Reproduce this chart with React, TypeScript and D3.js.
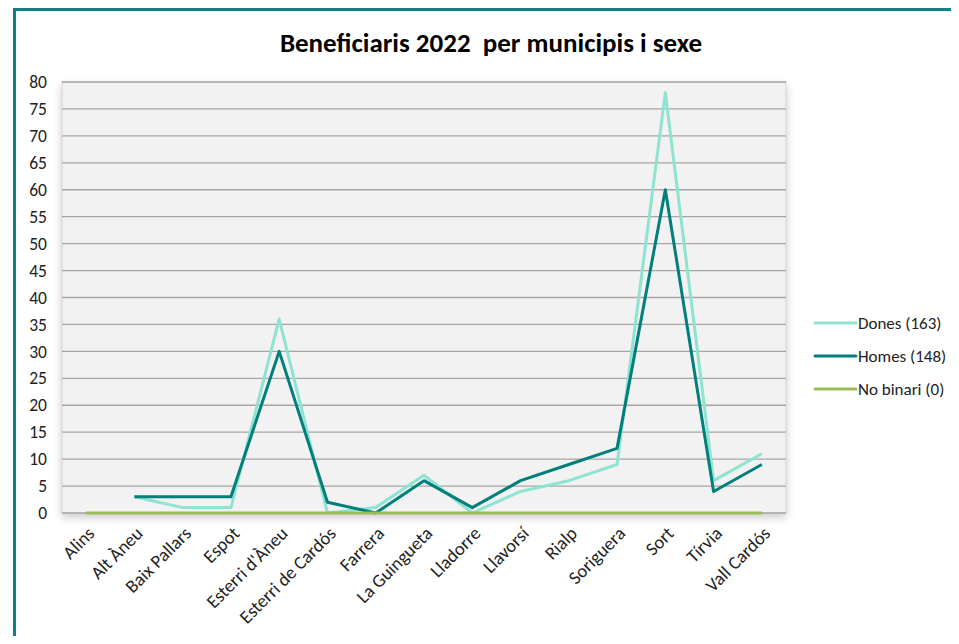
import React from "react";
import * as d3 from "d3";

const categories = ["Alins", "Alt Àneu", "Baix Pallars", "Espot", "Esterri d'Àneu", "Esterri de Cardós", "Farrera", "La Guingueta", "Lladorre", "Llavorsí", "Rialp", "Soriguera", "Sort", "Tírvia", "Vall Cardós"];
const dones: (number | null)[] = [null, 3, 1, 1, 36, 0, 1, 7, 0, 4, 6, 9, 78, 6, 11];
const homes: (number | null)[] = [null, 3, 3, 3, 30, 2, 0, 6, 1, 6, 9, 12, 60, 4, 9];
const noBinari: (number | null)[] = [0, 0, 0, 0, 0, 0, 0, 0, 0, 0, 0, 0, 0, 0, 0];
const yTicks = [0, 5, 10, 15, 20, 25, 30, 35, 40, 45, 50, 55, 60, 65, 70, 75, 80];
const seriesNames = ["Dones (163)", "Homes (148)", "No binari (0)"];
const seriesColors = ["#8fe3d1", "#007f7b", "#9bbb59"];

const W = 959, H = 644;
const plot = { left: 62, right: 786, top: 82, bottom: 513 };
const font = "Calibri, Carlito, 'Open Sans', 'Liberation Sans', sans-serif";

export default function App() {
  const x = d3.scaleBand<string>().domain(categories).range([plot.left, plot.right]);
  const y = d3.scaleLinear().domain([0, 80]).range([plot.bottom, plot.top]);
  const cx = (c: string) => (x(c) as number) + x.bandwidth() / 2;
  const line = d3
    .line<number | null>()
    .defined((d) => d !== null)
    .x((_, i) => cx(categories[i]))
    .y((d) => y(d as number));
  const series = [dones, homes, noBinari];
  const order = [0, 1, 2];
  return (
    <div style={{ margin: -8 }}>
      <svg width={W} height={H} style={{ display: "block", fontFamily: font }}>
        <defs>
          <filter id="sh" x="-5%" y="-5%" width="110%" height="115%">
            <feGaussianBlur in="SourceAlpha" stdDeviation="4" />
            <feOffset dx="0" dy="4" />
            <feComponentTransfer>
              <feFuncA type="linear" slope="0.2" />
            </feComponentTransfer>
            <feMerge>
              <feMergeNode />
              <feMergeNode in="SourceGraphic" />
            </feMerge>
          </filter>
        </defs>
        <rect x={0} y={0} width={W} height={H} fill="#fff" />
        <path d={`M14.5,${H} V9.5 H${W}`} fill="none" stroke="#12807f" strokeWidth={3} />
        <text x={491} y={52} textAnchor="middle" fontSize={27} fontWeight="bold" fill="#000" style={{ whiteSpace: "pre" }}>
          {"Beneficiaris 2022  per municipis i sexe"}
        </text>
        <rect
          x={plot.left}
          y={plot.top}
          width={plot.right - plot.left}
          height={plot.bottom - plot.top}
          fill="#f2f2f2"
          stroke="#d0d0d0"
          strokeWidth={1}
          filter="url(#sh)"
        />
        {yTicks.map((t) => (
          <g key={t}>
            <line x1={plot.left} x2={plot.right} y1={y(t)} y2={y(t)} stroke="#a6a6a6" strokeWidth={1.3} />
            <text x={47} y={y(t)} dy="0.35em" textAnchor="end" fontSize={17.5} fill="#222">
              {t}
            </text>
          </g>
        ))}
        {categories.map((c) => (
          <text
            key={c}
            transform={`translate(${cx(c) + 5},${plot.bottom + 17}) rotate(-45)`}
            textAnchor="end"
            fontSize={18.5}
            fill="#222"
            dy="0.35em"
          >
            {c}
          </text>
        ))}
        {order.map((i) => (
          <path
            key={i}
            d={line(series[i]) || ""}
            fill="none"
            stroke={seriesColors[i]}
            strokeWidth={3}
            strokeLinejoin="round"
          />
        ))}
        {seriesNames.map((n, i) => (
          <g key={n} transform={`translate(815,${323 + i * 33})`}>
            <line x1={0} x2={41} y1={0} y2={0} stroke={seriesColors[i]} strokeWidth={3} strokeLinecap="round" />
            <text x={43} y={0} dy="0.35em" fontSize={17} fill="#222">
              {n}
            </text>
          </g>
        ))}
      </svg>
    </div>
  );
}
